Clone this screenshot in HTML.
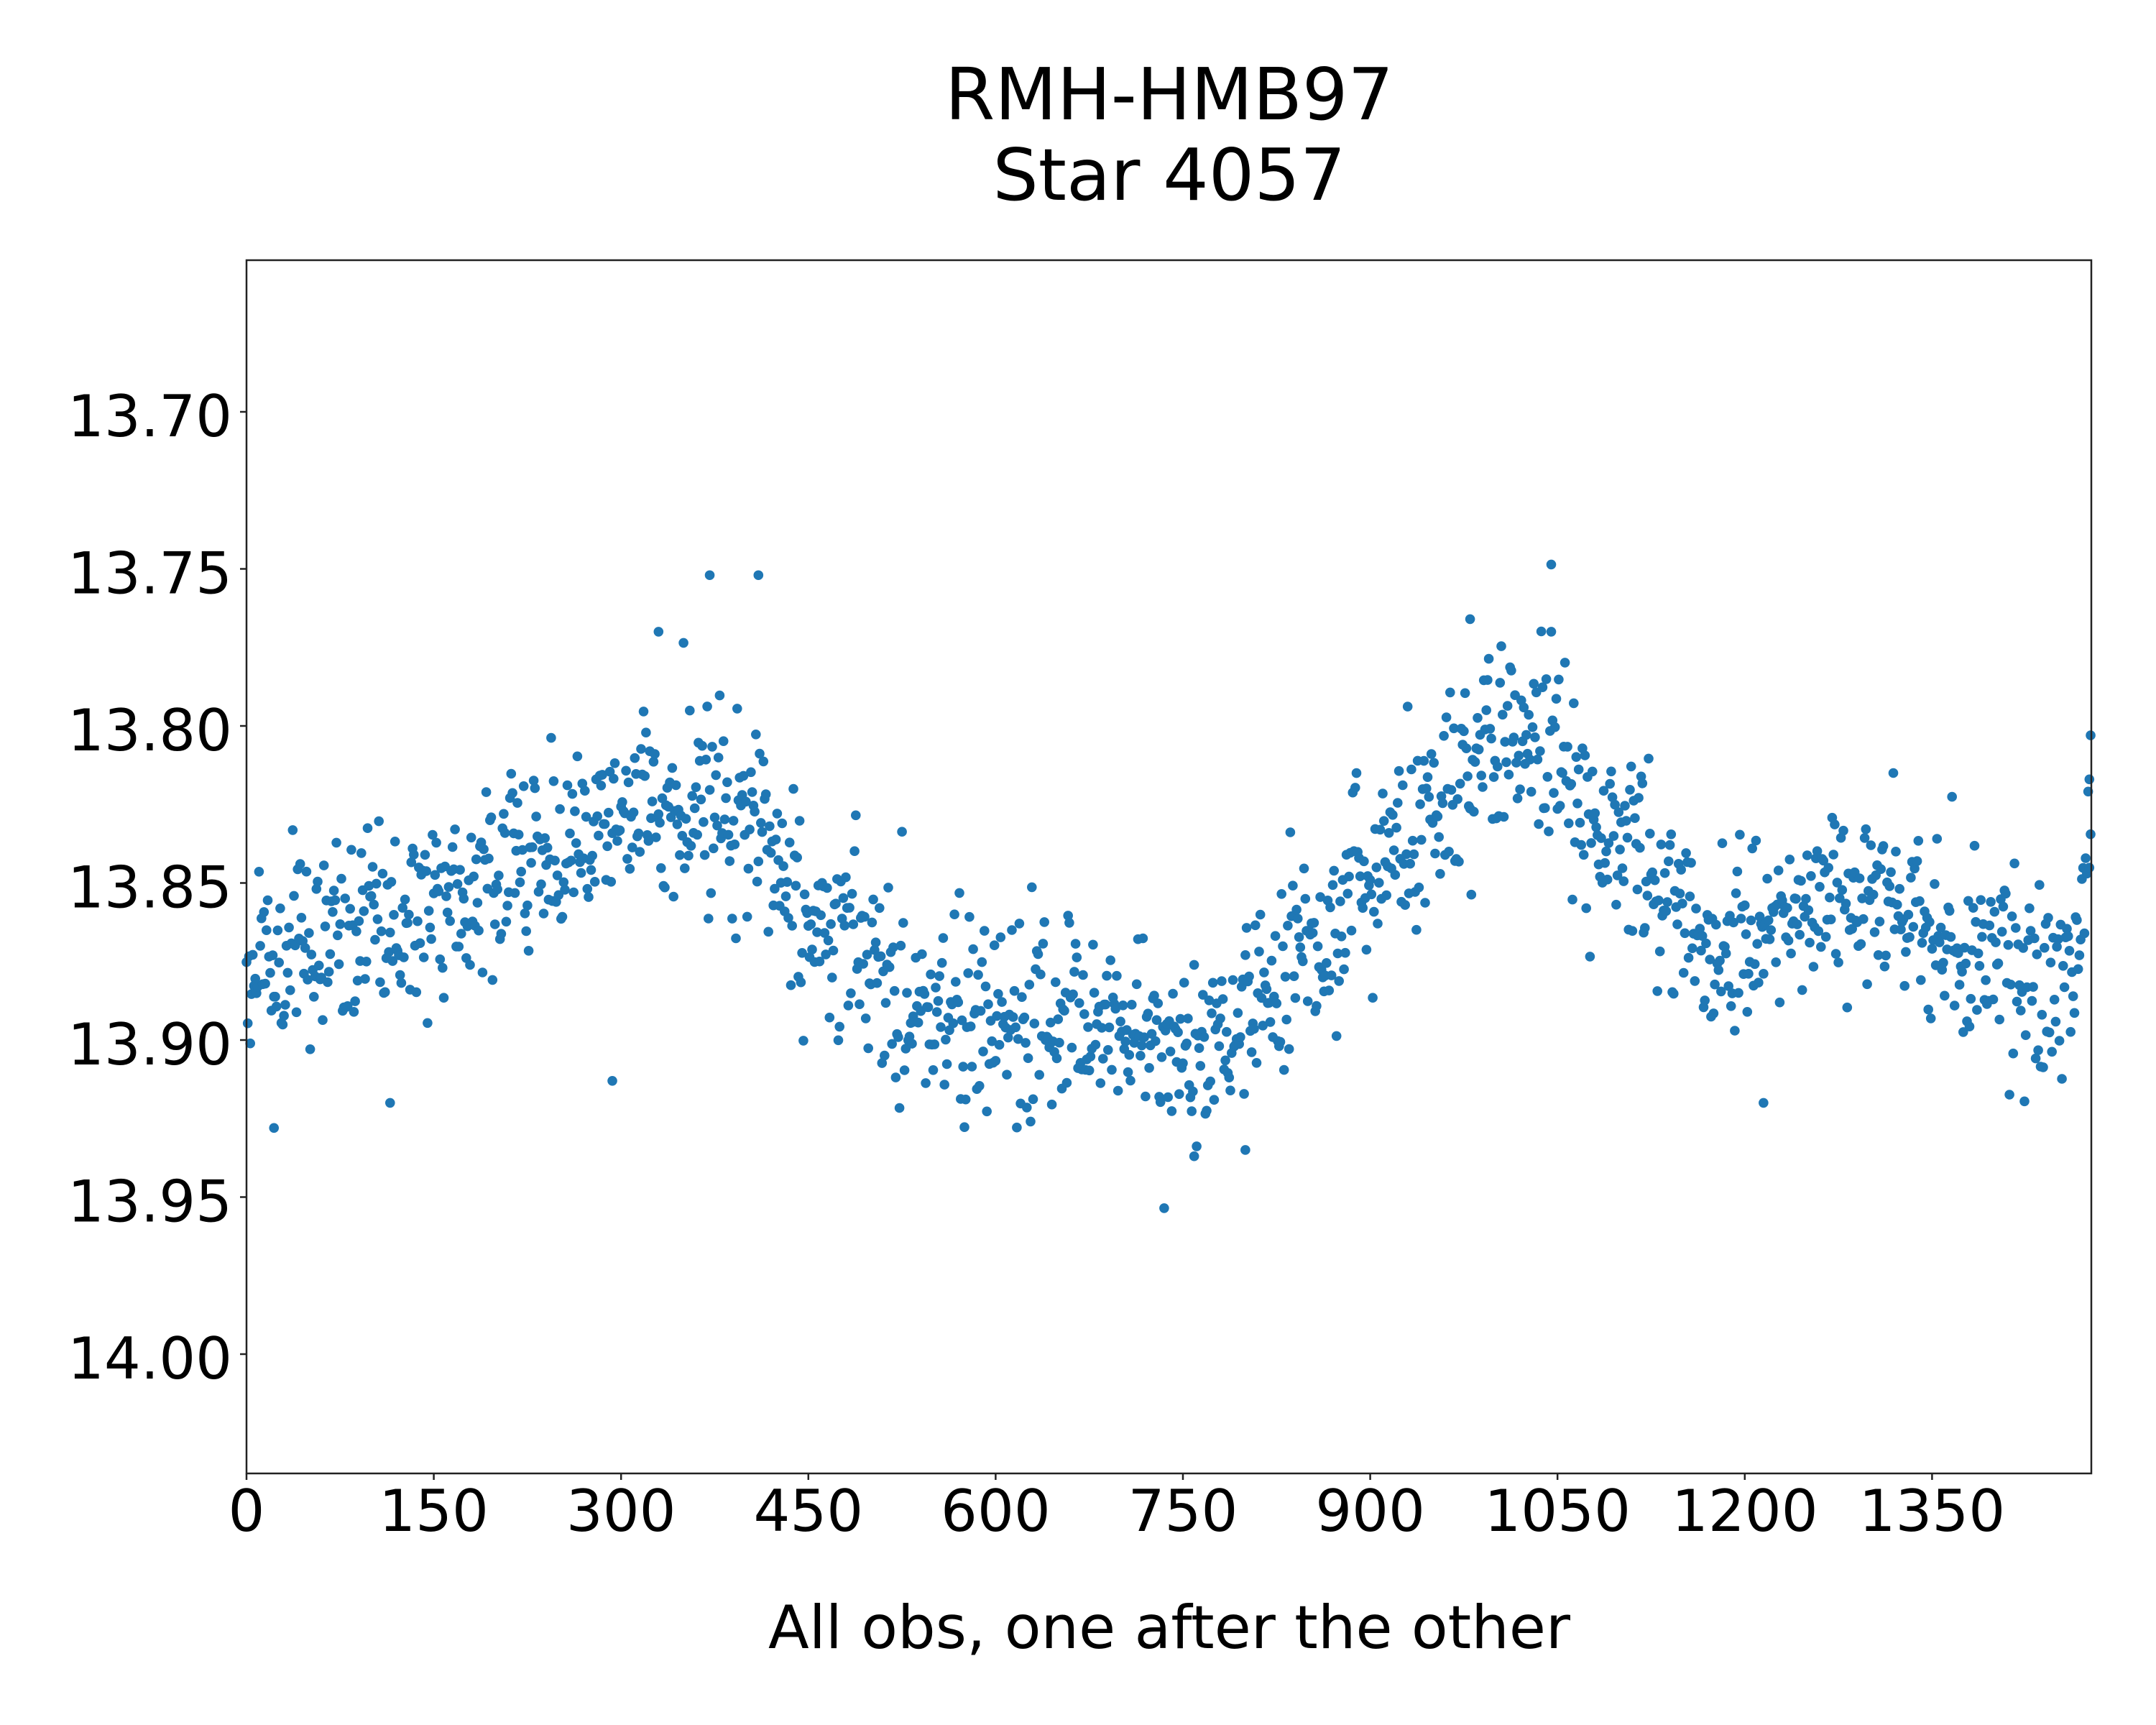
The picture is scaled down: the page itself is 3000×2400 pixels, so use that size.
<!DOCTYPE html>
<html><head><meta charset="utf-8"><style>
html,body{margin:0;padding:0;background:#fff;}
svg{display:block;font-family:"DejaVu Sans","Liberation Sans",sans-serif;}
</style></head><body>
<svg id="s" width="3000" height="2400" xmlns="http://www.w3.org/2000/svg">
<rect width="3000" height="2400" fill="#fff"/>
<text x="1627" y="166" font-size="100" text-anchor="middle">RMH-HMB97</text>
<text x="1627" y="278" font-size="100" text-anchor="middle">Star 4057</text>
<g id="pts" fill="#1f77b4"></g>
<rect x="343" y="362" width="2567" height="1688" fill="none" stroke="#222" stroke-width="2.5"/>
<g id="ticks" stroke="#222" stroke-width="2.5"></g>
<g id="labels" font-size="80"></g>
<text x="1627" y="2293" font-size="83" text-anchor="middle">All obs, one after the other</text>
</svg>
<script>
(function(){
var L=343,R=2910,T=362,B=2050;
function X(v){return L+v/150*260.6;}
function Y(v){return 573+(v-13.70)/0.05*218.5;}
var ns="http://www.w3.org/2000/svg";
var tk=document.getElementById('ticks'),lb=document.getElementById('labels'),pg=document.getElementById('pts');
function el(p,n,a,t){var e=document.createElementNS(ns,n);for(var k in a)e.setAttribute(k,a[k]);if(t)e.textContent=t;p.appendChild(e);}
for(var v=0;v<=1350;v+=150){var x=X(v);el(tk,'line',{x1:x,x2:x,y1:B,y2:B+9});el(lb,'text',{x:x,y:2130,'text-anchor':'middle'},String(v));}
var yt=["13.70","13.75","13.80","13.85","13.90","13.95","14.00"];
yt.forEach(function(s){var y=Y(parseFloat(s));el(tk,'line',{x1:L-9,x2:L,y1:y,y2:y});el(lb,'text',{x:323,y:y+34,'text-anchor':'end'},s);});
var kp=[[0,13.88],[150,13.855],[300,13.83],[400,13.825],[450,13.86],[550,13.895],[650,13.89],[750,13.905],[850,13.87],[950,13.83],[1020,13.80],[1100,13.835],[1180,13.87],[1260,13.855],[1330,13.86],[1400,13.875],[1440,13.893],[1460,13.88],[1478,13.83]];
function m(i){for(var k=0;k<kp.length-1;k++){if(i<=kp[k+1][0]){var a=kp[k],b=kp[k+1];return a[1]+(b[1]-a[1])*(i-a[0])/(b[0]-a[0]);}}return kp[kp.length-1][1];}
var s=12345;function r(){s=(s*1103515245+12345)%2147483648;return s/2147483648;}
function g(){var u=r()||1e-9,w=r();return Math.sqrt(-2*Math.log(u))*Math.cos(2*Math.PI*w);}
for(var i=0;i<1478;i++){var v=m(i)+g()*0.0155;el(pg,'circle',{cx:X(i).toFixed(1),cy:Y(v).toFixed(1),r:6.8});}
[[371,13.752],[410,13.752],[330,13.77],[980,13.766],[1045,13.77],[293,13.913],[22,13.928],[759,13.937],[800,13.935],[1215,13.92],[115,13.92],[1477,13.803],[1476,13.817]].forEach(function(p){el(pg,'circle',{cx:X(p[0]),cy:Y(p[1]),r:6.8});});
})();
</script>
</body></html>
